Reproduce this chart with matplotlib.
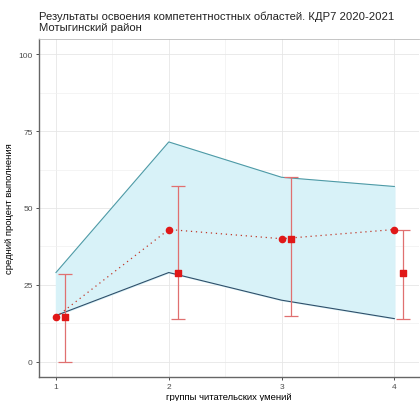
import matplotlib.pyplot as plt
import numpy as np

plt.rcParams['font.family'] = ['Liberation Sans', 'DejaVu Sans']

# группы читательских умений
groups = [1, 2, 3, 4]
upper = [29, 71.5, 60, 57]      # верхняя граница
lower = [15, 29, 20, 14]        # нижняя граница
circles = [14.5, 43, 40, 43]    # средний процент (район)
squares = [14.5, 29, 40, 29]    # средний процент (школа)
err_lo = [0, 14, 15, 14]
err_hi = [28.5, 57, 60, 43]

x = np.array(groups, dtype=float)
xs = x + 0.08

fig = plt.figure(figsize=(4.2, 4.02), dpi=100)
ax = fig.add_axes([0.093, 0.0597, 0.905, 0.8408])

ax.fill_between(x, lower, upper, color='#d8f2f8', zorder=1)
ax.plot(x, upper, color='#4e9aa6', lw=0.8, zorder=2)
ax.plot(x, lower, color='#2f4f6a', lw=0.8, zorder=2)
ax.plot(x, circles, color='#c0392b', lw=0.9, ls=(0, (1, 3)), zorder=2)

ax.errorbar(xs, squares,
            yerr=[np.array(squares) - np.array(err_lo), np.array(err_hi) - np.array(squares)],
            fmt='none', ecolor='#e07070', elinewidth=0.9, capsize=5, capthick=0.9, zorder=3)
ax.scatter(x, circles, s=20, color='#e01818', marker='o', zorder=4)
ax.scatter(xs, squares, s=24, color='#e01818', marker='s', zorder=4)

ax.set_xlim(0.85, 4.22)
ax.set_ylim(-5, 105)
ax.set_xticks(groups)
ax.set_yticks([0, 25, 50, 75, 100])
ax.set_xticks([1.5, 2.5, 3.5], minor=True)
ax.set_yticks([12.5, 37.5, 62.5, 87.5], minor=True)
ax.grid(which='major', color='#e6e6e6', lw=0.6)
ax.grid(which='minor', color='#f0f0f0', lw=0.5)
ax.set_axisbelow(True)
ax.tick_params(which='minor', length=0)
ax.tick_params(which='major', labelsize=6, labelcolor='#4d4d4d', length=2.5, width=0.6, color='#333333', pad=2)

for s in ['left', 'bottom']:
    ax.spines[s].set_color('#666666')
    ax.spines[s].set_linewidth(1.0)
ax.spines['top'].set_color('#bbbbbb')
ax.spines['top'].set_linewidth(0.6)
ax.spines['right'].set_visible(False)

ax.set_xlabel('группы читательских умений', fontsize=6.8, labelpad=1)
ax.set_ylabel('средний процент выполнения', fontsize=6.8, labelpad=3)

fig.text(0.093, 0.972, 'Результаты освоения компетентностных областей. КДР7 2020-2021\nМотыгинский район',
         fontsize=8.1, va='top', ha='left', linespacing=1.1, color='#222222')

fig.savefig('out.png', dpi=100)
